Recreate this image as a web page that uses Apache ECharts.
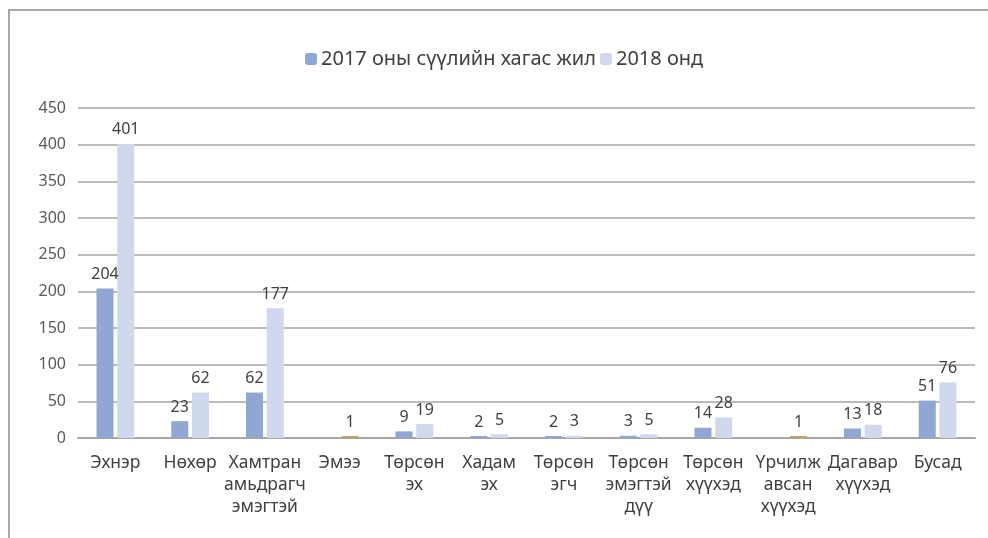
<!DOCTYPE html>
<html>
<head>
<meta charset="utf-8">
<script src="https://cdn.jsdelivr.net/npm/echarts@6/dist/echarts.min.js"></script>
<style>
  html, body { margin: 0; padding: 0; background: #fff; }
  #frame { position: absolute; left: 8px; top: 9px; width: 990px; height: 540px;
           border-top: 2px solid #a9a9a9; border-left: 2px solid #a9a9a9; }
  #chart { position: absolute; left: 0; top: 0; width: 988px; height: 538px; }
</style>
</head>
<body>
<div id="frame"></div>
<div id="chart"></div>
<script>
const categories = [
  'Эхнэр', 'Нөхөр', 'Хамтран\nамьдрагч\nэмэгтэй', 'Эмээ', 'Төрсөн\nэх', 'Хадам\nэх',
  'Төрсөн\nэгч', 'Төрсөн\nэмэгтэй\nдүү', 'Төрсөн\nхүүхэд', 'Үрчилж\nавсан\nхүүхэд',
  'Дагавар\nхүүхэд', 'Бусад'
]
const values2017 = [204, 23, 62, null, 9, 2, 2, 3, 14, null, 13, 51]
const values2018 = [401, 62, 177, 1, 19, 5, 3, 5, 28, 1, 18, 76]
// points drawn in a different colour in the original
const oddPoints = [3, 9]

const chart = echarts.init(document.getElementById('chart'))

const font = '"Noto Sans", "Open Sans", sans-serif'
const labelStyle = { show: true, position: 'top', color: '#404040', fontSize: 16, fontFamily: font, distance: 6 }

const option = {
  animation: false,
  legend: {
    top: 44,
    left: 300,
    itemWidth: 12,
    itemHeight: 12,
    itemGap: 4,
    textStyle: { fontSize: 20, color: '#404040', fontFamily: font, padding: [0, 0, 0, -1] },
    data: ['2017 оны сүүлийн хагас жил', '2018 онд']
  },
  grid: { left: 78, right: 13, top: 108, bottom: 100 },
  xAxis: {
    type: 'category',
    data: categories,
    axisLine: { lineStyle: { color: '#a6a6a6', width: 2 } },
    axisTick: { show: false },
    axisLabel: { color: '#404040', fontSize: 17.5, fontFamily: font, margin: 14, lineHeight: 22, interval: 0 }
  },
  yAxis: {
    type: 'value',
    min: 0,
    max: 450,
    interval: 50,
    axisLine: { show: false },
    axisTick: { show: false },
    axisLabel: { color: '#595959', fontSize: 16, fontFamily: font, margin: 12 },
    splitLine: { lineStyle: { color: '#a6a6a6', width: 1.5 } }
  },
  series: [
    {
      name: '2017 оны сүүлийн хагас жил',
      type: 'bar',
      data: values2017,
      barWidth: 17,
      barGap: '22%',
      barMinHeight: 2,
      itemStyle: { color: '#8fa7d2' },
      label: labelStyle
    },
    {
      name: '2018 онд',
      type: 'bar',
      data: values2018.map((v, i) => oddPoints.includes(i) ? { value: v, itemStyle: { color: '#bfa46c' } } : v),
      barWidth: 17,
      barMinHeight: 2,
      itemStyle: { color: '#cfd8ec' },
      label: labelStyle
    }
  ]
}

chart.setOption(option)
</script>
</body>
</html>
